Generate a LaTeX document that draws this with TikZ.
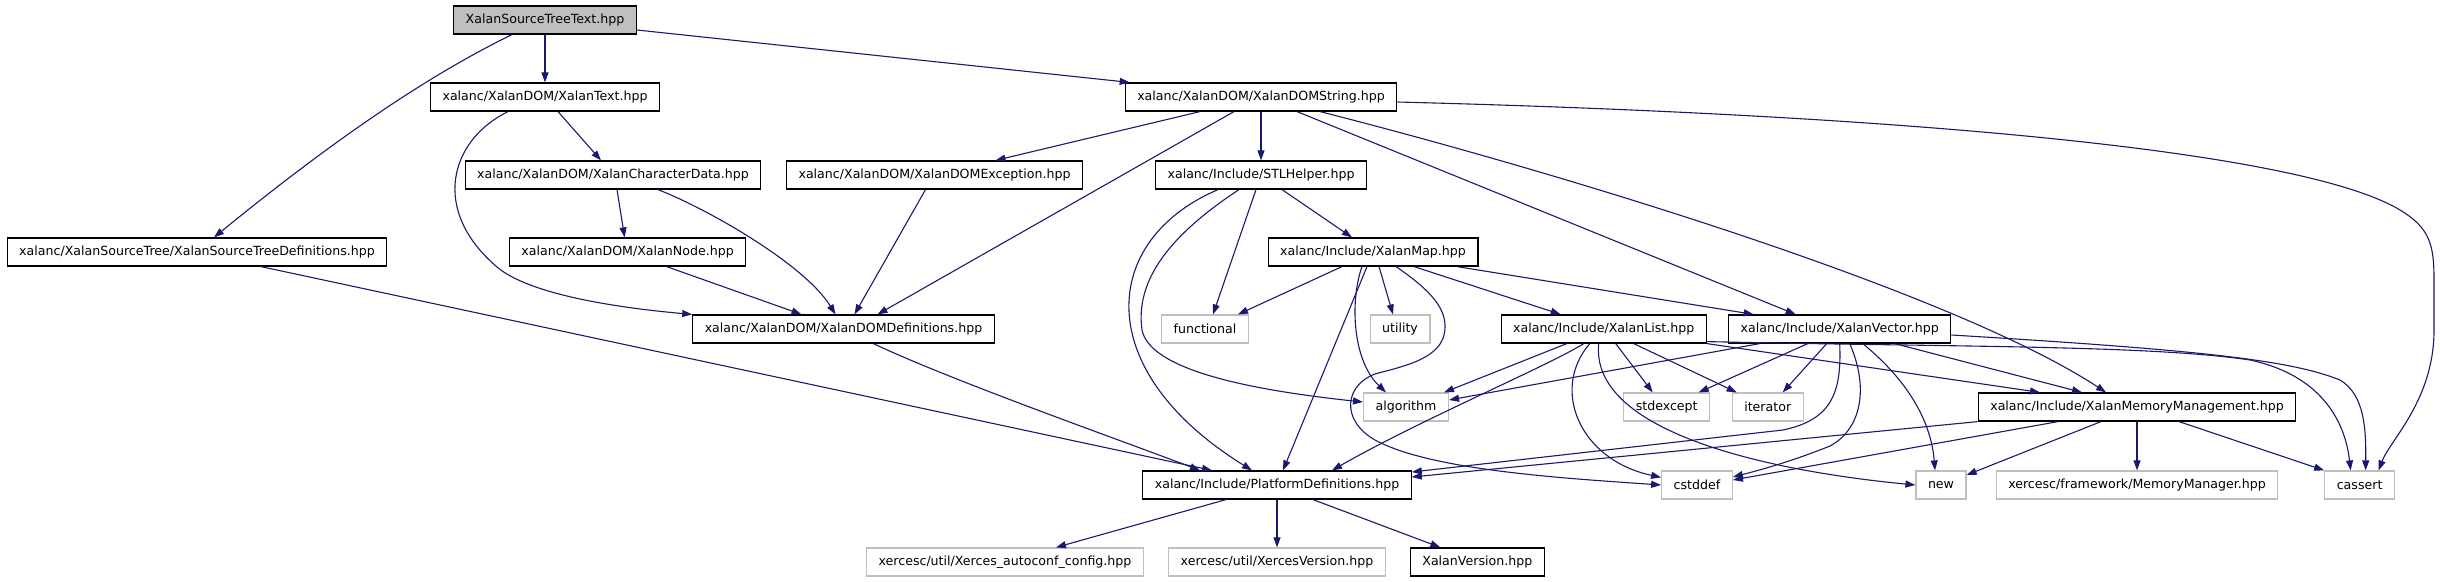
\documentclass[tikz,border=0pt]{standalone}
\usepackage{fontspec}
\setmainfont{DejaVu Sans}
\usepackage{tikz}
\usetikzlibrary{arrows.meta}
\usepackage{xcolor}
\definecolor{depblue}{HTML}{191970}
\definecolor{sysgray}{HTML}{BFBFBF}
\definecolor{rootgray}{HTML}{BFBFBF}

\begin{document}
\begin{tikzpicture}[
    x=1pt, y=-1pt,
    font=\fontsize{12.6}{15}\selectfont,
    hdr/.style={draw, line width=1.2pt, minimum height=28pt, inner xsep=12pt,
                inner ysep=0pt, fill=white},
    syshdr/.style={hdr, draw=sysgray},
    rootbox/.style={hdr, fill=rootgray},
    dep/.style={draw=depblue, line width=1.1pt, -{Triangle[length=10pt, width=7pt]}},
  ]
    \useasboundingbox (0,0) rectangle (2440,581);

    % files
    \node[rootbox] (src)      at (545,20)     {XalanSourceTreeText.hpp};
    \node[hdr]     (xtext)    at (545,97)     {xalanc/XalanDOM/XalanText.hpp};
    \node[hdr]     (domstr)   at (1261,97)    {xalanc/XalanDOM/XalanDOMString.hpp};
    \node[hdr]     (chardata) at (613,175)    {xalanc/XalanDOM/XalanCharacterData.hpp};
    \node[hdr]     (domexc)   at (934.5,175)  {xalanc/XalanDOM/XalanDOMException.hpp};
    \node[hdr]     (stlhelp)  at (1261,175)   {xalanc/Include/STLHelper.hpp};
    \node[hdr]     (stdefs)   at (197,252)    {xalanc/XalanSourceTree/XalanSourceTreeDefinitions.hpp};
    \node[hdr]     (xnode)    at (627.6,252)  {xalanc/XalanDOM/XalanNode.hpp};
    \node[hdr]     (xmap)     at (1373,252)   {xalanc/Include/XalanMap.hpp};
    \node[hdr]     (domdefs)  at (843.5,329)  {xalanc/XalanDOM/XalanDOMDefinitions.hpp};
    \node[syshdr]  (functional) at (1205,329) {functional};
    \node[syshdr]  (utility)  at (1400,329)   {utility};
    \node[hdr]     (xlist)    at (1603.7,329) {xalanc/Include/XalanList.hpp};
    \node[hdr]     (xvec)     at (1839.7,329) {xalanc/Include/XalanVector.hpp};
    \node[syshdr]  (algorithm) at (1406,407)  {algorithm};
    \node[syshdr]  (stdexcept) at (1666.7,407) {stdexcept};
    \node[syshdr]  (iterator) at (1767.7,407) {iterator};
    \node[hdr]     (memmgmt)  at (2137,407)   {xalanc/Include/XalanMemoryManagement.hpp};
    \node[hdr]     (platdefs) at (1277,485)   {xalanc/Include/PlatformDefinitions.hpp};
    \node[syshdr]  (cstddef)  at (1697,485)   {cstddef};
    \node[syshdr]  (new)      at (1941,485)   {new};
    \node[syshdr]  (memmgr)   at (2137,485)   {xercesc/framework/MemoryManager.hpp};
    \node[syshdr]  (cassert)  at (2359.6,485) {cassert};
    \node[syshdr]  (xconf)    at (1005,562)   {xercesc/util/Xerces\_autoconf\_config.hpp};
    \node[syshdr]  (xver)     at (1277,562)   {xercesc/util/XercesVersion.hpp};
    \node[hdr]     (xalanver) at (1477.3,562) {XalanVersion.hpp};

    % includes
    \draw[dep] (src) -- (xtext);
    \draw[dep] ([xshift=-33pt]src.south) .. controls (460,60) and (370,110) .. ([xshift=17pt]stdefs.north);
    \draw[dep] ([yshift=-10pt]src.east) -- ([xshift=5pt]domstr.north west);
    \draw[dep] ([xshift=13pt]xtext.south) -- ([xshift=-12pt]chardata.north);
    \draw[dep] ([xshift=-37pt]xtext.south) .. controls (450,140) and (430,210) .. (497,267)
      .. controls (530,295) and (620,308) .. (domdefs.north west);
    \draw[dep] ([xshift=4pt]chardata.south) -- ([xshift=-3pt]xnode.north);
    \draw[dep] ([xshift=45pt]chardata.south) .. controls (710,210) and (805,265) .. ([xshift=-8pt]domdefs.north);
    \draw[dep] ([xshift=39pt]xnode.south) -- ([xshift=-42pt]domdefs.north);
    \draw[dep] ([xshift=64pt]stdefs.south) -- ([xshift=-65pt]platdefs.north);
    \draw[dep] ([xshift=-61pt]domstr.south) -- ([xshift=61pt]domexc.north);
    \draw[dep] ([xshift=-27pt]domstr.south) -- ([xshift=34pt]domdefs.north);
    \draw[dep] (domstr) -- (stlhelp);
    \draw[dep] ([xshift=36pt]domstr.south) -- ([xshift=-44pt]xvec.north);
    \draw[dep] ([xshift=59pt]domstr.south) .. controls (1550,170) and (1950,290) .. ([xshift=-31pt]memmgmt.north);
    \draw[dep] ([yshift=-5pt]domstr.east) .. controls (1900,115) and (2300,150) .. (2400,210)
      .. controls (2430,228) and (2434,245) .. (2434,280) -- (2434,330)
      .. controls (2434,400) and (2390,440) .. ([xshift=19pt]cassert.north);
    \draw[dep] ([xshift=-9pt]domexc.south) -- ([xshift=11pt]domdefs.north);
    \draw[dep] ([xshift=30pt]domdefs.south) .. controls (950,380) and (1120,440) .. ([xshift=-77pt]platdefs.north);

    \draw[dep] ([xshift=-43pt]stlhelp.south) .. controls (1100,240) and (1090,370) .. ([xshift=-25pt]platdefs.north);
    \draw[dep] ([xshift=-22pt]stlhelp.south) .. controls (1170,235) and (1135,280) .. (1142,330)
      .. controls (1150,370) and (1250,390) .. ([yshift=5pt]algorithm.west);
    \draw[dep] ([xshift=-5pt]stlhelp.south) -- ([xshift=8pt]functional.north);
    \draw[dep] ([xshift=21pt]stlhelp.south) -- ([xshift=-21pt]xmap.north);

    \draw[dep] ([xshift=-31pt]xmap.south) -- ([xshift=33pt]functional.north);
    \draw[dep] ([xshift=-6pt]xmap.south) -- ([xshift=6pt]platdefs.north);
    \draw[dep] ([xshift=-11pt]xmap.south) .. controls (1350,300) and (1352,360) .. ([xshift=-20pt]algorithm.north);
    \draw[dep] ([xshift=6pt]xmap.south) -- ([xshift=-7pt]utility.north);
    \draw[dep] ([xshift=23pt]xmap.south) .. controls (1430,290) and (1450,310) .. (1444,335)
      .. controls (1438,360) and (1400,367) .. (1375,374)
      .. controls (1345,385) and (1340,420) .. (1375,440)
      .. controls (1430,470) and (1560,478) .. (cstddef.west);
    \draw[dep] ([xshift=41pt]xmap.south) -- ([xshift=-43pt]xlist.north);
    \draw[dep] ([xshift=84pt]xmap.south) -- ([xshift=-86pt]xvec.north);

    \draw[dep] ([xshift=-37pt]xlist.south) -- ([xshift=38pt]algorithm.north);
    \draw[dep] ([xshift=-20pt]xlist.south) .. controls (1550,365) and (1420,420) .. ([xshift=55pt]platdefs.north);
    \draw[dep] ([xshift=-14pt]xlist.south) .. controls (1550,390) and (1580,460) .. ([yshift=-7pt]cstddef.north west);
    \draw[dep] ([xshift=-5pt]xlist.south) .. controls (1590,430) and (1760,470) .. (new.west);
    \draw[dep] ([xshift=12pt]xlist.south) -- ([xshift=-14pt]stdexcept.north);
    \draw[dep] ([xshift=30pt]xlist.south) -- ([xshift=-31pt]iterator.north);
    \draw[dep] (xlist.south east) -- ([xshift=-97pt]memmgmt.north);
    \draw[dep] ([yshift=2pt]xlist.south east) .. controls (1950,347) and (2150,345) .. (2250,360)
      .. controls (2320,375) and (2345,420) .. ([xshift=-9pt]cassert.north);

    \draw[dep] ([xshift=-80pt]xvec.south) -- ([yshift=7pt]algorithm.east);
    \draw[dep] (xvec.south) .. controls (1842,395) and (1830,420) .. (1783,430)
      .. controls (1650,445) and (1500,462) .. ([yshift=13pt]platdefs.east);
    \draw[dep] ([xshift=-32pt]xvec.south) -- ([xshift=32pt]stdexcept.north);
    \draw[dep] ([xshift=-13pt]xvec.south) -- ([xshift=15pt]iterator.north);
    \draw[dep] ([xshift=10pt]xvec.south) .. controls (1870,390) and (1860,430) .. (1830,446)
      .. controls (1790,462) and (1760,470) .. ([yshift=8pt]cstddef.east);
    \draw[dep] ([xshift=23pt]xvec.south) .. controls (1895,370) and (1930,410) .. ([xshift=-6pt]new.north);
    \draw[dep] ([xshift=55pt]xvec.south) -- ([xshift=-55pt]memmgmt.north);
    \draw[dep] ([yshift=-6pt]xvec.east) .. controls (2200,350) and (2290,360) .. (2340,380)
      .. controls (2365,395) and (2366,430) .. ([xshift=6pt]cassert.north);

    \draw[dep] (memmgmt.south west) -- ([yshift=8pt]platdefs.east);
    \draw[dep] ([xshift=-79pt]memmgmt.south) -- ([yshift=5pt]cstddef.east);
    \draw[dep] ([xshift=-36pt]memmgmt.south) -- ([yshift=10pt]new.east);
    \draw[dep] (memmgmt) -- (memmgr);
    \draw[dep] ([xshift=42pt]memmgmt.south) -- (cassert.north west);

    \draw[dep] ([xshift=-51pt]platdefs.south) -- ([xshift=51pt]xconf.north);
    \draw[dep] (platdefs) -- (xver);
    \draw[dep] ([xshift=36pt]platdefs.south) -- ([xshift=-37pt]xalanver.north);
  \end{tikzpicture}
\end{document}
